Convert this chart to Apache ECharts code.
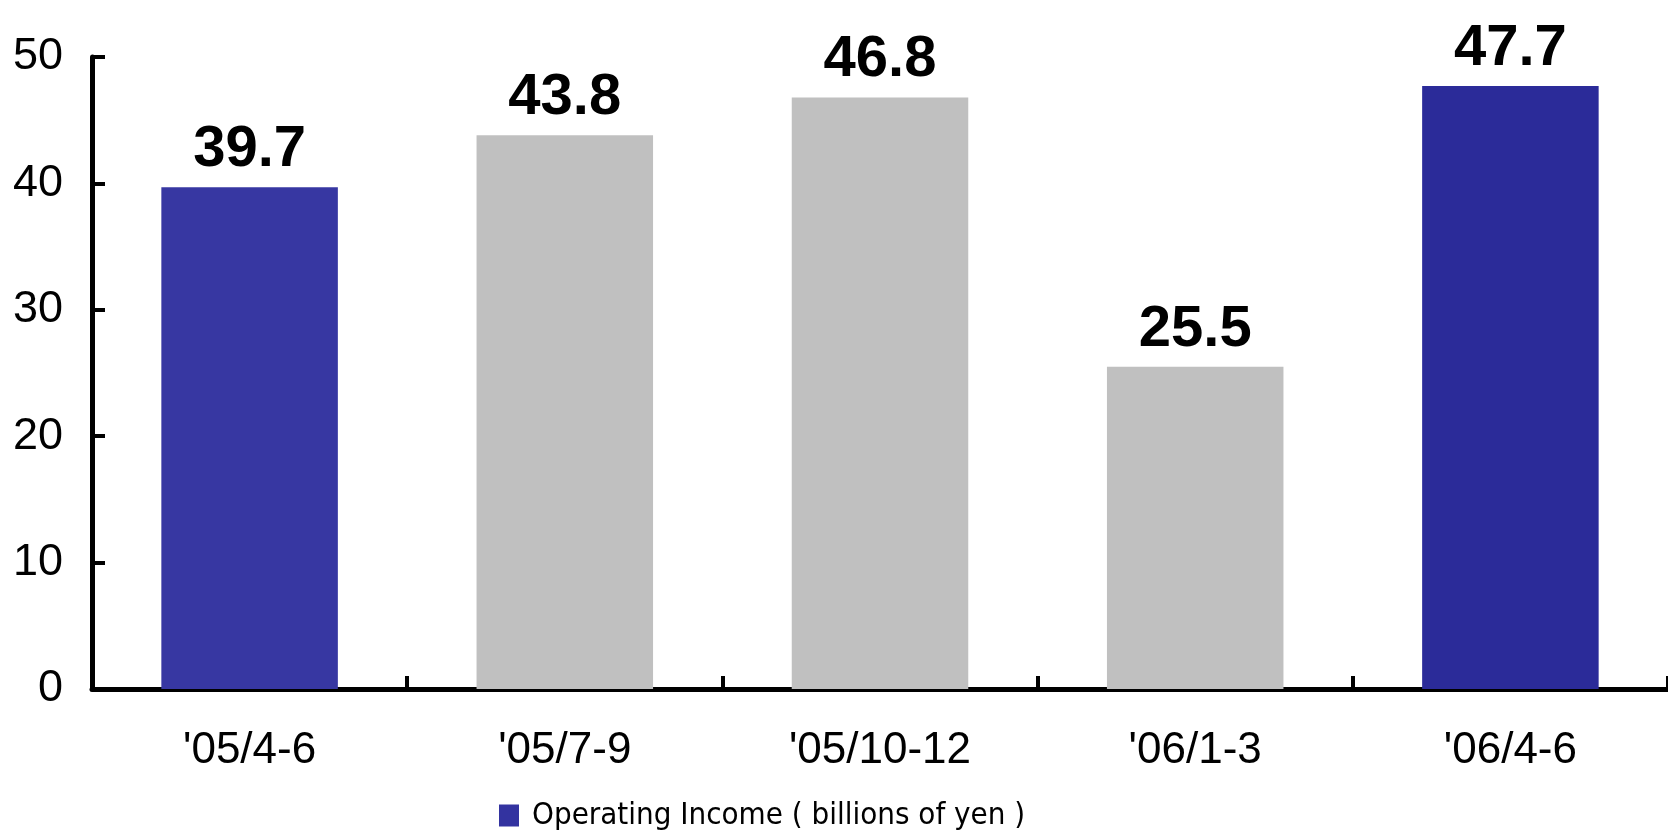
<!DOCTYPE html>
<html>
<head>
<meta charset="utf-8">
<script src="https://cdn.jsdelivr.net/npm/echarts@6/dist/echarts.min.js"></script>
<style>
  html, body { margin: 0; padding: 0; background: #fff; }
  #chart { width: 1668px; height: 835px; }
</style>
</head>
<body>
<div id="chart"></div>
<script>
const categories = ["'05/4-6", "'05/7-9", "'05/10-12", "'06/1-3", "'06/4-6"];
const values = [39.7, 43.8, 46.8, 25.5, 47.7];
const barColors = ['#3737A2', '#C0C0C0', '#C0C0C0', '#C0C0C0', '#2B2B99'];
const yTicks = { min: 0, max: 50, interval: 10 };
const seriesName = 'Operating Income ( billions of yen )';

const chart = echarts.init(document.getElementById('chart'), null, { renderer: 'canvas' });
chart.setOption({
  animation: false,
  backgroundColor: '#ffffff',
  grid: { left: 92, right: -2, top: 57, bottom: 146, containLabel: false },
  legend: {
    left: 494, top: 795,
    itemWidth: 20, itemHeight: 22, itemGap: 10,
    icon: 'rect',
    data: [{ name: seriesName, itemStyle: { color: '#3333A0' } }],
    textStyle: { fontFamily: '"DejaVu Sans Condensed", "Liberation Sans Narrow", "Liberation Sans", sans-serif', fontSize: 31, color: '#000', padding: [0, 0, 0, 8] }
  },
  xAxis: {
    type: 'category',
    data: categories,
    axisLine: { lineStyle: { color: '#000', width: 5 } },
    axisTick: { show: true, inside: true, length: 13, lineStyle: { color: '#000', width: 4 } },
    axisLabel: { margin: 40, fontFamily: '"Liberation Sans", Arial, sans-serif', fontSize: 44, color: '#000' }
  },
  yAxis: {
    type: 'value',
    min: yTicks.min, max: yTicks.max, interval: yTicks.interval,
    splitLine: { show: false },
    axisLine: { show: true, lineStyle: { color: '#000', width: 5 } },
    axisTick: { show: true, inside: true, length: 13, lineStyle: { color: '#000', width: 4 } },
    axisLabel: { margin: 29, fontFamily: '"Liberation Sans", Arial, sans-serif', fontSize: 45, color: '#000' }
  },
  series: [{
    name: seriesName,
    type: 'bar',
    barWidth: '56%',
    itemStyle: { color: '#3333A0' },
    data: values.map((v, i) => ({ value: v, itemStyle: { color: barColors[i] } })),
    label: {
      show: true, position: 'top', distance: 8,
      fontFamily: '"Liberation Sans", Arial, sans-serif', fontWeight: 'bold', fontSize: 58, color: '#000',
      formatter: p => p.value.toFixed(1)
    }
  }]
});
</script>
</body>
</html>
